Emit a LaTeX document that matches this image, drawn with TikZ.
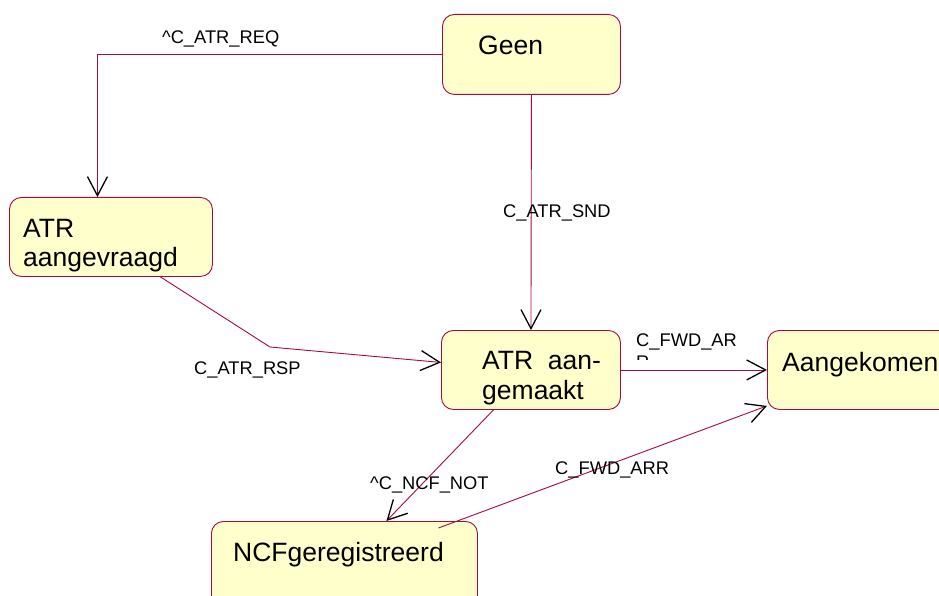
\documentclass[tikz,border=0pt]{standalone}
\usepackage{fontspec}
\setmainfont{Liberation Sans}
\usetikzlibrary{arrows.meta}
\definecolor{edgecol}{RGB}{165,10,65}
\definecolor{boxfill}{RGB}{255,255,204}
\tikzset{
  statebox/.style={draw=edgecol, fill=boxfill, line width=0.9pt, rounded corners=12pt, inner sep=0pt, anchor=north west},
  boxtext/.style={inner sep=0pt, anchor=base west, font=\fontsize{26.5}{30}\selectfont},
  edgelabel/.style={inner sep=0pt, anchor=base west, font=\fontsize{18.3}{22}\selectfont},
  trans/.style={draw=edgecol, line width=0.9pt, -{Straight Barb[color=black, length=19pt, width=20pt, line width=1.3pt]}},
}
\begin{document}
\begin{tikzpicture}[x=1pt, y=-1pt]
\useasboundingbox (0,0) rectangle (939,596);
\clip (0,0) rectangle (939,596);
\fill[white] (0,0) rectangle (939,596);

% states
\node[statebox, minimum width=178pt, minimum height=80pt] (geen) at (442,14) {};
\node[statebox, minimum width=203pt, minimum height=79pt] (req) at (9,197) {};
\node[statebox, minimum width=179pt, minimum height=79pt] (made) at (441,330) {};
\node[statebox, minimum width=210pt, minimum height=79pt] (arr) at (767,330) {};
\node[statebox, minimum width=266pt, minimum height=95pt] (ncf) at (211,521) {};

% state texts
\node[boxtext] (geen-t) at (478,55) {Geen};
\node[boxtext] (req-t1) at (23,237) {ATR};
\node[boxtext] (req-t2) at (23,266) {aangevraagd};
\node[boxtext] (made-t1) at (482,369) {ATR\ \ aan-};
\node[boxtext] (made-t2) at (482,399) {gemaakt};
\node[boxtext] (arr-t) at (782,371) {Aangekomen};
\node[boxtext] (ncf-t) at (233,561) {NCFgeregistreerd};

% transitions
\draw[trans] (geen.west) -| ([xshift=-13.5pt]req.north);
\draw[trans] (geen.south) -- (made.north);
\draw[trans] ([xshift=49.5pt]req.south) -- (270,347) -- ([yshift=7.5pt]made.west);
\draw[trans] (made.east) -- (arr.west);
\draw[trans] ([xshift=-37.5pt]made.south) -- ([xshift=42pt]ncf.north);
\draw[trans] ([xshift=94pt,yshift=-7pt]ncf.north) -- ([yshift=4pt]arr.south west);

% transition labels
\node[edgelabel] (l-req) at (162,44) {\^{}C\_ATR\_REQ};
\node[edgelabel] (l-snd) at (503,217) {C\_ATR\_SND};
\node[edgelabel] (l-rsp) at (194,374) {C\_ATR\_RSP};
\begin{scope}
\clip (630,325) rectangle (760,359.5);
\node[edgelabel, anchor=north west, align=left, font=\fontsize{18.3}{22}\selectfont] (l-fwd1) at (636,334) {C\_FWD\_AR\\R};
\end{scope}
\node[edgelabel] (l-ncf) at (370,489) {\^{}C\_NCF\_NOT};
\node[edgelabel] (l-fwd2) at (555,474) {C\_FWD\_ARR};
\end{tikzpicture}
\end{document}
